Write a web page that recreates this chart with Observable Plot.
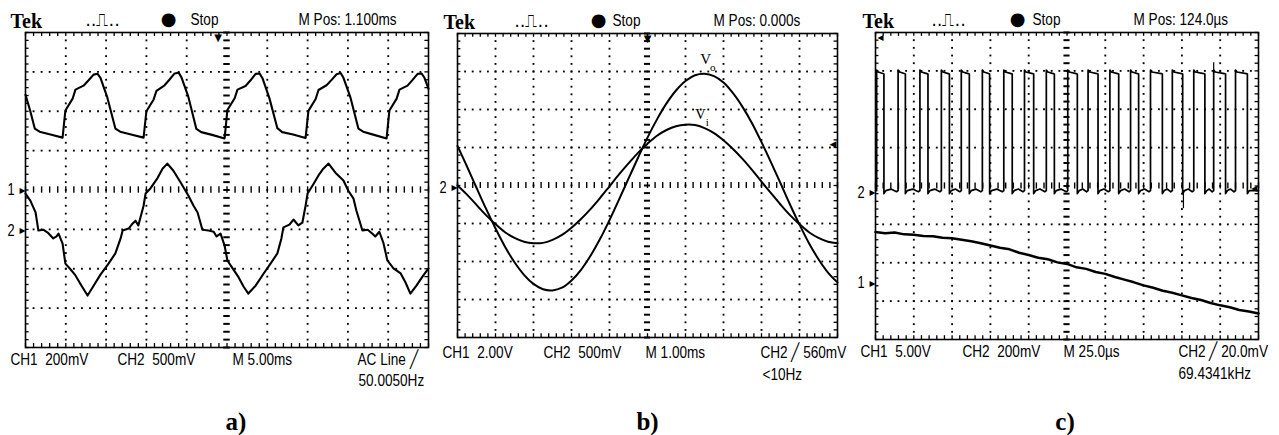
<!DOCTYPE html>
<html>
<head>
<meta charset="utf-8">
<script src="https://cdn.jsdelivr.net/npm/d3@7"></script>
<script src="https://cdn.jsdelivr.net/npm/@observablehq/plot@0.6"></script>
<style>
html, body { margin: 0; padding: 0; background: #fff; }
#root { position: relative; width: 1279px; height: 435px; overflow: hidden; background: #fff; }
#root > svg { position: absolute; top: 0; }
</style>
</head>
<body>
<div id="root"></div>
<script>
// ---------------- DATA (in screen divisions: x 0..10, y 0..8) ----------------
// Panel a) CH1 (upper trace)
const a_ch1_x = [0,0.12,0.23,0.35,0.62,0.92, 0.99,1.17,1.24,1.44,1.56,1.69,1.79,1.86,2.03,2.23,2.35,2.62,2.93,
  3.00,3.18,3.25,3.45,3.57,3.70,3.80,3.87,4.04,4.24,4.36,4.63,4.94,
  5.01,5.19,5.26,5.46,5.58,5.71,5.81,5.88,6.05,6.25,6.37,6.64,6.95,
  7.02,7.20,7.27,7.47,7.59,7.72,7.82,7.89,8.06,8.26,8.38,8.65,8.96,
  9.03,9.21,9.28,9.48,9.60,9.73,9.83,9.90,10.0];
const a_ch1_y = [6.42,6.00,5.56,5.48,5.41,5.33, 6.02,6.32,6.55,6.65,6.78,6.93,6.95,6.85,6.35,5.56,5.48,5.41,5.33,
  6.00,6.30,6.52,6.66,6.80,6.96,6.98,6.86,6.37,5.55,5.47,5.40,5.31,
  6.03,6.33,6.55,6.64,6.78,6.95,6.96,6.84,6.34,5.57,5.47,5.41,5.32,
  6.01,6.31,6.54,6.66,6.79,6.94,6.97,6.85,6.36,5.56,5.48,5.40,5.31,
  6.02,6.32,6.55,6.65,6.79,6.95,6.96,6.85,6.57];
// Panel a) CH2 (lower trace)
const a_ch2_x = [0,0.12,0.25,0.32,0.45,0.55,0.69,0.77,0.82,0.92,
  0.99,1.12,1.24,1.39,1.54,1.69,1.86,2.06,2.23,2.36,
  2.41,2.56,2.66,2.73,2.80,2.93,2.98,3.10,3.28,3.40,
  3.52,3.67,3.85,4.04,4.17,4.27,4.39,4.54,4.67,4.74,
  4.84,4.94,5.01,5.14,5.29,5.41,5.53,5.71,5.91,6.08,
  6.25,6.35,6.40,6.55,6.65,6.77,6.87,6.95,7.00,7.15,
  7.27,7.39,7.52,7.69,7.89,8.01,8.14,8.21,8.36,8.49,
  8.61,8.68,8.78,8.88,8.98,9.13,9.31,9.43,9.55,9.70,
  9.85,10.0];
const a_ch2_y = [3.91,3.73,3.43,2.97,2.99,2.92,2.77,2.82,2.89,2.64,
  2.13,1.98,1.83,1.57,1.32,1.57,1.85,2.13,2.39,2.77,
  2.97,3.02,3.15,3.22,3.10,3.60,3.91,4.04,4.31,4.54,
  4.67,4.49,4.19,3.86,3.60,3.43,2.99,2.97,2.94,2.82,
  2.89,2.59,2.21,2.01,1.78,1.55,1.37,1.57,1.88,2.13,
  2.39,2.77,3.05,3.12,3.25,3.10,3.17,3.60,3.91,4.16,
  4.37,4.54,4.67,4.44,4.24,3.98,3.78,3.48,2.97,2.99,
  2.89,2.82,2.94,2.66,2.21,2.01,1.88,1.65,1.37,1.57,
  1.80,2.01];

// Panel b) sampled every 0.25 division
const b_x = [0,0.25,0.5,0.75,1,1.25,1.5,1.75,2,2.25,2.5,2.75,3,3.25,3.5,3.75,4,4.25,4.5,4.75,5,
  5.25,5.5,5.75,6,6.25,6.5,6.75,7,7.25,7.5,7.75,8,8.25,8.5,8.75,9,9.25,9.5,9.75,10];
const b_vo = [5.04,4.50,3.94,3.39,2.87,2.39,1.98,1.65,1.41,1.27,1.24,1.31,1.50,1.78,2.15,2.59,3.09,3.63,4.18,4.73,5.26,
  5.74,6.16,6.50,6.75,6.90,6.94,6.88,6.71,6.43,6.07,5.64,5.14,4.61,4.06,3.50,2.97,2.48,2.06,1.71,1.45];
const b_vi = [4.00,3.76,3.49,3.22,2.98,2.77,2.62,2.52,2.48,2.49,2.57,2.70,2.89,3.12,3.38,3.67,3.98,4.29,4.58,4.86,5.10,
  5.31,5.46,5.56,5.60,5.59,5.51,5.38,5.19,4.96,4.70,4.41,4.10,3.80,3.50,3.22,2.98,2.77,2.62,2.52,2.48];

// Panel c) CH2 pulse train: rising / falling edge times, levels
const c_rise = [0.03,0.59,1.16,1.72,2.24,2.79,3.35,3.89,4.46,5.02,5.55,6.12,6.66,7.18,7.75,8.31,8.83,9.40];
const c_fall = [0.22,0.78,1.37,1.93,2.45,2.98,3.57,4.13,4.67,5.27,5.81,6.35,6.87,7.49,8.02,8.60,9.14,9.71];
const c_high = 6.98;
const c_low = 3.88;
const c_spikeX = [8.04, 8.83];
const c_spikeBase = [3.88, 6.98];
const c_spikeTip = [3.41, 7.21];
// Panel c) CH1 slow ramp
const c_ch1_x = [0,0.25,0.5,0.75,1,1.25,1.5,1.75,2,2.25,2.5,2.75,3,3.25,3.5,3.75,4,4.25,4.5,4.75,5,
  5.25,5.5,5.75,6,6.25,6.5,6.75,7,7.25,7.5,7.75,8,8.25,8.5,8.75,9,9.25,9.5,9.75,10];
const c_ch1_y = [2.80,2.77,2.79,2.74,2.73,2.70,2.69,2.65,2.64,2.60,2.56,2.51,2.45,2.39,2.35,2.26,2.20,2.13,2.09,2.01,1.97,
  1.88,1.84,1.76,1.71,1.63,1.56,1.49,1.41,1.35,1.27,1.22,1.15,1.08,1.03,0.95,0.89,0.84,0.77,0.73,0.68];

// Texts
const a_header = ["Tek", "Stop", "M Pos: 1.100ms"];
const a_footer1 = ["CH1  200mV", "CH2  500mV", "M 5.00ms", "AC Line \u2571"];
const a_footer2 = ["50.0050Hz"];
const b_header = ["Tek", "Stop", "M Pos: 0.000s"];
const b_footer1 = ["CH1  2.00V", "CH2  500mV", "M 1.00ms", "CH2 \u2571 560mV"];
const b_footer2 = ["<10Hz"];
const c_header = ["Tek", "Stop", "M Pos: 124.0\u00b5s"];
const c_footer1 = ["CH1  5.00V", "CH2  200mV", "M 25.0\u00b5s", "CH2 \u2571 20.0mV"];
const c_footer2 = ["69.4341kHz"];
const panelLabels = ["a)", "b)", "c)"];
const a_channels = [{ch: "1", level: 4.0}, {ch: "2", level: 2.97}];
const b_channels = [{ch: "2", level: 3.95}];
const c_channels = [{ch: "2", level: 3.83}, {ch: "1", level: 1.48}];

// ---------------- RENDERING ----------------
const SANS = '"Liberation Sans Narrow","Arial Narrow","Liberation Sans",Arial,sans-serif';
const SERIF = '"Liberation Serif","Times New Roman",serif';
const NARROW = 0.8; // horizontal squeeze for the scope's condensed lettering
const zip = (xs, ys) => xs.map((x, i) => ({x, y: ys[i]}));

function label(text, anchor, dx, dy, o = {}) {
  return Plot.text([text], {
    text: d => d, frameAnchor: anchor, dx, dy,
    textAnchor: o.textAnchor || "start", lineAnchor: "middle",
    fontSize: o.fontSize || 17, fontFamily: o.fontFamily || SANS,
    fontWeight: o.fontWeight || "normal", fill: "black"
  });
}

function grid() {
  const minorX = d3.range(51).map(i => i / 5);
  const minorY = d3.range(41).map(i => i / 5);
  const dots = [];
  for (const k of [1,2,3,4,6,7,8,9]) for (const y of minorY) if (y > 0 && y < 8) dots.push({x: k, y});
  for (const k of [1,2,3,5,6,7]) for (const x of minorX) if (x > 0 && x < 10) dots.push({x, y: k});
  return [
    Plot.dot(dots, {x: "x", y: "y", symbol: "square", r: 1.05, fill: "black", stroke: "none"}),
    Plot.ruleX(minorX, {x: d => d, y1: 8, y2: 7.9, stroke: "black", strokeWidth: 1.3}),
    Plot.ruleX(minorX, {x: d => d, y1: 0, y2: 0.1, stroke: "black", strokeWidth: 1.3}),
    Plot.ruleY(minorY, {y: d => d, x1: 0, x2: 0.09, stroke: "black", strokeWidth: 1.3}),
    Plot.ruleY(minorY, {y: d => d, x1: 10, x2: 9.91, stroke: "black", strokeWidth: 1.3}),
    Plot.ruleX(minorX, {x: d => d, y1: 3.92, y2: 4.08, stroke: "black", strokeWidth: 1.4}),
    Plot.ruleY(minorY, {y: d => d, x1: 4.92, x2: 5.08, stroke: "black", strokeWidth: 2}),
    Plot.frame({stroke: "black", strokeWidth: 1.6})
  ];
}

function header(h, d) {
  return [
    label(h[0], "top-left", d[0], -11, {fontFamily: SERIF, fontWeight: "bold", fontSize: 20}),
    label("\u2024\u2024\u238D\u2024\u2024", "top-left", d[1], -12, {fontSize: 17, fontFamily: "DejaVu Sans", textAnchor: "middle"}),
    label("\u25CF", "top-left", d[2], -13, {fontSize: 18, fontFamily: "DejaVu Sans", textAnchor: "middle"}),
    label(h[1], "top-left", d[3], -13),
    label(h[2], "top-left", d[4], -13)
  ];
}

function footer(f1, f2, d, dy1, dy2) {
  return [
    ...f1.map((t, i) => label(t, "bottom-left", d[i], dy1)),
    label(f2[0], "bottom-left", d[4], dy2)
  ];
}

function channels(list) {
  return [
    Plot.text(list, {x: 0, y: "level", text: "ch", dx: -11, textAnchor: "end", lineAnchor: "middle", fontSize: 16, fontFamily: SANS}),
    Plot.text(list, {x: 0, y: "level", text: () => "\u25B8", dx: 0, textAnchor: "end", lineAnchor: "middle", fontSize: 12, fontFamily: "DejaVu Sans"})
  ];
}

function squeezeText(svg) {
  svg.querySelectorAll('g[aria-label="text"]').forEach(g => {
    if (g.getAttribute("font-family") !== SANS) return;
    g.querySelectorAll("text").forEach(t => {
      const tr = t.getAttribute("transform");
      if (tr) {
        t.setAttribute("transform", tr + ` scale(${NARROW},1)`);
      } else {
        const x = +(t.getAttribute("x") || 0), y = +(t.getAttribute("y") || 0);
        t.removeAttribute("x"); t.removeAttribute("y");
        t.setAttribute("transform", `translate(${x},${y}) scale(${NARROW},1)`);
      }
    });
  });
}

function panel(cfg, marks) {
  const svg = Plot.plot({
    width: cfg.width, height: 435,
    marginLeft: cfg.mL, marginRight: cfg.mR, marginTop: cfg.mT, marginBottom: cfg.mB,
    x: {domain: [0, 10], axis: null},
    y: {domain: [0, 8], axis: null},
    style: {background: "transparent", overflow: "visible"},
    marks: [...grid(), ...marks]
  });
  squeezeText(svg);
  svg.style.left = cfg.left + "px";
  document.getElementById("root").appendChild(svg);
}

// Panel a
panel({left: 0, width: 430, mL: 25, mR: 2, mT: 32, mB: 88}, [
  Plot.line(zip(a_ch1_x, a_ch1_y), {x: "x", y: "y", stroke: "black", strokeWidth: 2.1}),
  Plot.line(zip(a_ch2_x, a_ch2_y), {x: "x", y: "y", stroke: "black", strokeWidth: 2.1}),
  Plot.text([4.78], {x: d => d, y: 8, dy: 5, text: () => "\u25BC", fontSize: 10, fontFamily: "DejaVu Sans"}),
  ...channels(a_channels),
  ...header(a_header, [-15, 77, 143, 165, 273]),
  ...footer(a_footer1, a_footer2, [-15, 92, 207, 332, 333], 12, 33),
  label(panelLabels[0], "bottom", 9, 74, {fontFamily: SERIF, fontWeight: "bold", fontSize: 25, textAnchor: "middle"})
]);

// Panel b
panel({left: 432, width: 420, mL: 25, mR: 15, mT: 33, mB: 98}, [
  Plot.line(zip(b_x, b_vo), {x: "x", y: "y", stroke: "black", strokeWidth: 2, curve: "catmull-rom"}),
  Plot.line(zip(b_x, b_vi), {x: "x", y: "y", stroke: "black", strokeWidth: 2, curve: "catmull-rom"}),
  Plot.text(["V"], {x: 6.53, y: 7.32, text: d => d, fontSize: 15, fontFamily: SERIF}),
  Plot.text(["o"], {x: 6.72, y: 7.10, text: d => d, fontSize: 11, fontFamily: SERIF}),
  Plot.text(["V"], {x: 6.39, y: 5.87, text: d => d, fontSize: 15, fontFamily: SERIF}),
  Plot.text(["i"], {x: 6.57, y: 5.66, text: d => d, fontSize: 11, fontFamily: SERIF}),
  Plot.text([5], {x: d => d, y: 8, dy: 5, text: () => "\u25BC", fontSize: 10, fontFamily: "DejaVu Sans"}),
  Plot.text([5.08], {x: 10, y: d => d, dx: -1, text: () => "\u25C0", textAnchor: "end", fontSize: 9, fontFamily: "DejaVu Sans"}),
  ...channels(b_channels),
  ...header(b_header, [-14, 74, 141, 155, 256]),
  ...footer(b_footer1, b_footer2, [-15, 86, 188, 303, 305], 15, 37),
  label(panelLabels[1], "bottom", 0, 84, {fontFamily: SERIF, fontWeight: "bold", fontSize: 25, textAnchor: "middle"})
]);

// Panel c
const pulse = [{x: 0, y: c_low}];
c_rise.forEach((r, i) => {
  pulse.push({x: r, y: c_low}, {x: r, y: c_high + 0.04}, {x: r + 0.04, y: c_high - 0.01});
  const f = c_fall[i];
  pulse.push({x: f - 0.03, y: c_high - 0.05}, {x: f, y: c_high - 0.06}, {x: f, y: c_low - 0.08}, {x: f + 0.05, y: c_low});
  const nr = c_rise[i + 1];
  if (nr !== undefined) pulse.push({x: (f + nr) / 2, y: c_low + 0.04}, {x: nr - 0.04, y: c_low - 0.03});
});
pulse.push({x: 10, y: c_low});
panel({left: 850, width: 429, mL: 25, mR: 21, mT: 32, mB: 96}, [
  Plot.line(pulse, {x: "x", y: "y", stroke: "black", strokeWidth: 1.7}),
  Plot.ruleX(c_spikeX, {x: d => d, y1: (d, i) => c_spikeBase[i], y2: (d, i) => c_spikeTip[i], stroke: "black", strokeWidth: 1.2}),
  Plot.line(zip(c_ch1_x, c_ch1_y), {x: "x", y: "y", stroke: "black", strokeWidth: 2.5}),
  Plot.text([8], {x: 0, y: d => d, dx: 2, dy: 5, text: () => "\u25C2", textAnchor: "start", fontSize: 12, fontFamily: "DejaVu Sans"}),
  Plot.text([3.93], {x: 10, y: d => d, dx: -1, text: () => "\u25C0", textAnchor: "end", fontSize: 8, fontFamily: "DejaVu Sans"}),
  ...channels(c_channels),
  ...header(c_header, [-13, 73, 142, 157, 258]),
  ...footer(c_footer1, c_footer2, [-15, 87, 188, 303, 303], 12, 34),
  label(panelLabels[2], "bottom", -2, 82, {fontFamily: SERIF, fontWeight: "bold", fontSize: 25, textAnchor: "middle"})
]);
</script>
</body>
</html>
